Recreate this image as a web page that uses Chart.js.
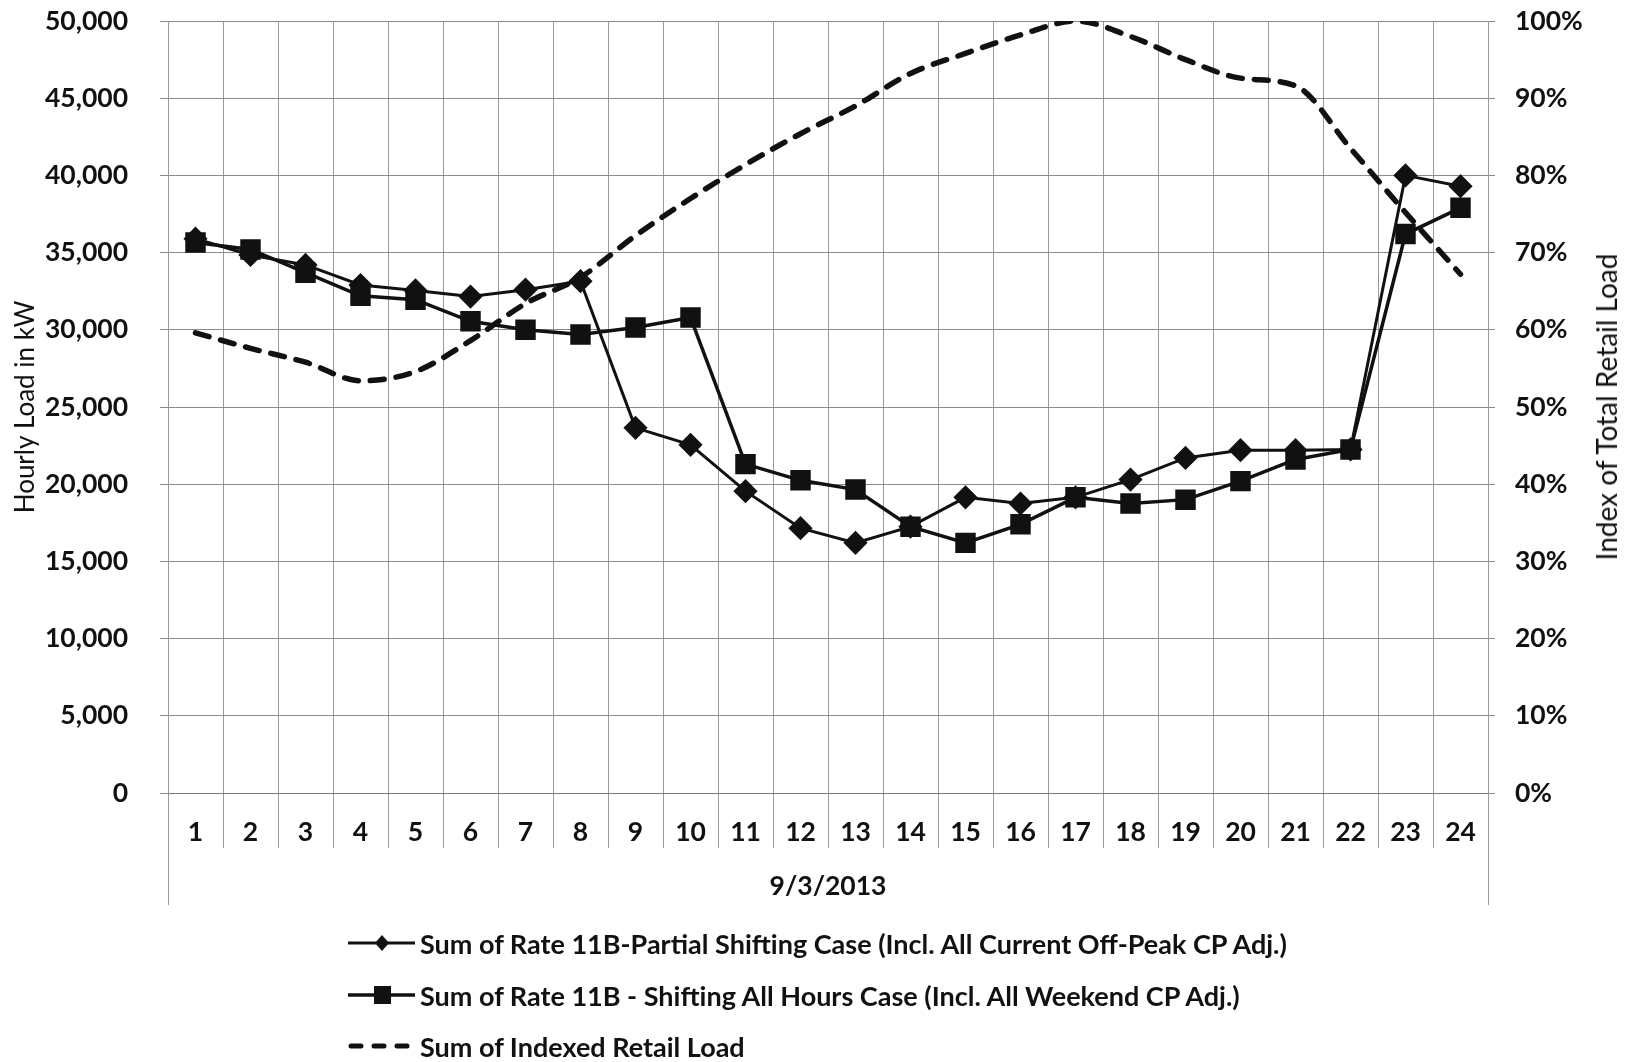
<!DOCTYPE html>
<html>
<head>
<meta charset="utf-8">
<script src="https://cdn.jsdelivr.net/npm/chart.js"></script>
<style>
    html, body { margin: 0; padding: 0; background: #fff; }
    #wrap { position: relative; width: 1627px; height: 1062px; font-family: Lato, 'Open Sans', sans-serif; color: #111; }
    #chart { position: absolute; left: 0; top: 0; }
    .legend-row { position: absolute; left: 348px; height: 30px; display: flex; align-items: center; font-weight: bold; font-size: 27px; white-space: nowrap; }
    .legend-row svg { margin-right: 5px; }
    #rightTitle { position: absolute; left: 1606px; top: 407px; transform: translate(-50%, -50%) rotate(-90deg); font-size: 28px; white-space: nowrap; }
</style>
</head>
<body>
<div id="wrap">
    <canvas id="chart" width="1627" height="1062"></canvas>
    <div id="legend"></div>
    <div id="rightTitle">Index of Total Retail Load</div>
</div>
<script>
// hours of 9/3/2013
const hours = ['1', '2', '3', '4', '5', '6', '7', '8', '9', '10', '11', '12',
    '13', '14', '15', '16', '17', '18', '19', '20', '21', '22', '23', '24'];

// kW, left axis
const partialShifting = [35900, 34850, 34200, 32900, 32550, 32150, 32600, 33150, 23650, 22550, 19550, 17150,
    16200, 17250, 19150, 18750, 19150, 20300, 21700, 22200, 22200, 22250, 40000, 39300];
const allHoursShifting = [35650, 35200, 33700, 32200, 31950, 30550, 30000, 29700, 30150, 30800, 21300, 20250,
    19650, 17250, 16200, 17400, 19150, 18750, 19000, 20200, 21600, 22250, 36200, 37900];

// % of total retail load, right axis
const indexedRetail = [59.6, 57.6, 55.8, 53.4, 54.6, 58.6, 63.4, 66.8, 72.2, 77.0, 81.4, 85.4,
    89.0, 93.2, 95.8, 98.2, 100, 98.0, 95.0, 92.6, 91.6, 83.5, 75.2, 67.2];

const seriesNames = [
    'Sum of Rate 11B-Partial Shifting Case (Incl. All Current Off-Peak CP Adj.)',
    'Sum of Rate 11B - Shifting All Hours Case (Incl. All Weekend CP Adj.)',
    'Sum of Indexed Retail Load'
];

const ink = '#111';
const gridColor = '#9a9a9a';
const tickFont = { family: 'Lato', size: 26.5, weight: 'bold' };

// Excel style: outer separators run down past the category labels
const frameLines = {
    id: 'frameLines',
    afterDraw(chart) {
        const { ctx, chartArea, scales } = chart;
        ctx.save();
        ctx.strokeStyle = gridColor;
        ctx.lineWidth = 1;
        [chartArea.left, chartArea.right].forEach(x => {
            ctx.beginPath();
            ctx.moveTo(Math.round(x) + 0.5, chartArea.bottom);
            ctx.lineTo(Math.round(x) + 0.5, scales.x.bottom);
            ctx.stroke();
        });
        ctx.restore();
    }
};

new Chart(document.getElementById('chart'), {
    type: 'line',
    data: {
        labels: hours,
        datasets: [
            {
                label: seriesNames[0],
                data: partialShifting,
                borderColor: ink,
                backgroundColor: ink,
                borderWidth: 3,
                pointStyle: 'rectRot',
                pointRadius: 10,
                tension: 0,
                yAxisID: 'y',
                order: 1
            },
            {
                label: seriesNames[1],
                data: allHoursShifting,
                borderColor: ink,
                backgroundColor: ink,
                borderWidth: 3.5,
                pointStyle: 'rect',
                pointRadius: 12,
                tension: 0,
                yAxisID: 'y',
                order: 2
            },
            {
                label: seriesNames[2],
                data: indexedRetail,
                borderColor: ink,
                borderWidth: 5.5,
                borderDash: [14, 12],
                borderCapStyle: 'round',
                pointRadius: 0,
                cubicInterpolationMode: 'monotone',
                yAxisID: 'y1',
                order: 0
            }
        ]
    },
    options: {
        responsive: false,
        devicePixelRatio: 1,
        animation: false,
        layout: { padding: { top: 0, left: 0, right: 0, bottom: 157 } },
        plugins: {
            legend: { display: false },
            tooltip: { enabled: false }
        },
        scales: {
            x: {
                offset: true,
                grid: { offset: true, color: gridColor, tickLength: 55, tickColor: gridColor },
                border: { color: '#777' },
                ticks: { font: tickFont, color: ink, padding: -31, maxRotation: 0, autoSkip: false },
                title: { display: true, text: '9/3/2013', font: tickFont, color: ink, padding: { top: 0, bottom: 3 } },
                afterFit: s => { s.height = 112; }
            },
            y: {
                position: 'left',
                min: 0,
                max: 50000,
                ticks: {
                    stepSize: 5000,
                    font: tickFont,
                    color: ink,
                    padding: 32,
                    callback: v => v.toLocaleString('en-US')
                },
                grid: { color: '#8a8a8a', tickLength: 8 },
                border: { color: gridColor },
                title: { display: true, text: 'Hourly Load in kW', font: { family: 'Lato', size: 26 }, color: ink, padding: { top: 10, bottom: 0 } },
                afterFit: s => { s.width = 168; s.paddingTop = 21; }
            },
            y1: {
                position: 'right',
                min: 0,
                max: 100,
                ticks: {
                    stepSize: 10,
                    font: tickFont,
                    color: ink,
                    padding: 20,
                    callback: v => v + '%'
                },
                grid: { drawOnChartArea: false, color: '#8a8a8a', tickLength: 7 },
                border: { color: gridColor },
                afterFit: s => { s.width = 139; s.paddingTop = 21; }
            }
        }
    },
    plugins: [frameLines]
});

// legend below the chart, one series per row
const legendRows = [
    { y: 943, marker: 'diamond' },
    { y: 995, marker: 'square' },
    { y: 1046, marker: 'dash' }
];
const legend = document.getElementById('legend');
legendRows.forEach((row, i) => {
    let sample;
    if (row.marker === 'diamond') {
        sample = '<line x1="0" y1="12" x2="67" y2="12" stroke="#111" stroke-width="3"/>' +
            '<polygon points="34,4 41,12 34,20 27,12" fill="#111"/>';
    } else if (row.marker === 'square') {
        sample = '<line x1="0" y1="12" x2="67" y2="12" stroke="#111" stroke-width="3.5"/>' +
            '<rect x="26" y="3" width="17" height="18" fill="#111"/>';
    } else {
        sample = '<line x1="3" y1="12" x2="66" y2="12" stroke="#111" stroke-width="5" stroke-linecap="round" stroke-dasharray="10 13"/>';
    }
    const div = document.createElement('div');
    div.className = 'legend-row';
    div.style.top = (row.y - 15) + 'px';
    div.innerHTML = '<svg width="67" height="24">' + sample + '</svg><span>' + seriesNames[i] + '</span>';
    legend.appendChild(div);
});
</script>
</body>
</html>
